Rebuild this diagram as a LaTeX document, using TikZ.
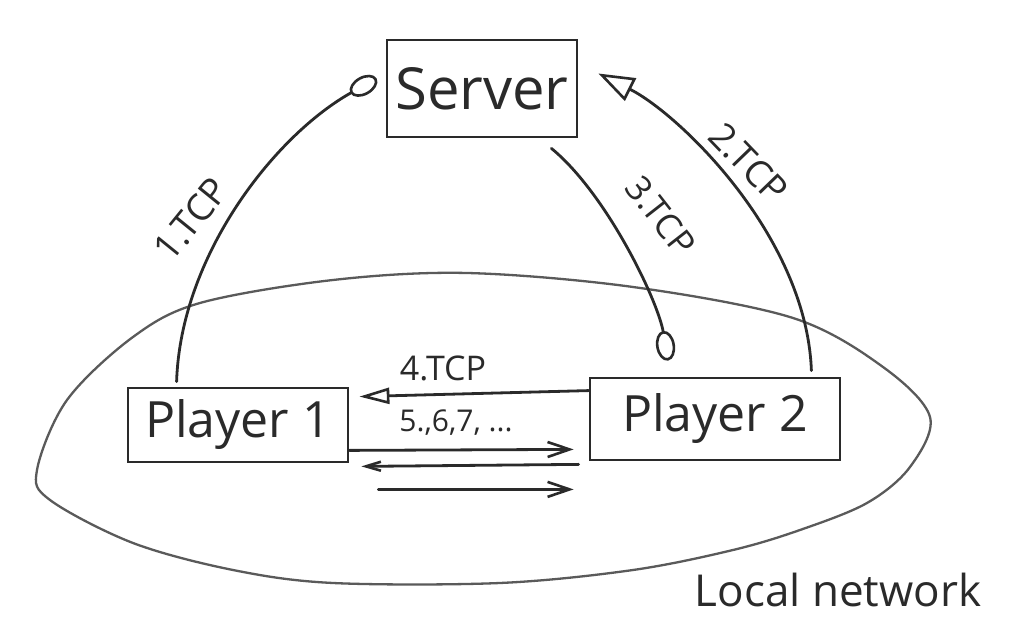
\documentclass[tikz,border=0pt]{standalone}
\usepackage{fontspec}
\setmainfont{Open Sans}
\usetikzlibrary{arrows.meta}
\definecolor{ink}{HTML}{2A2A2A}
\definecolor{inkgray}{HTML}{5A5A5A}
\begin{document}
\begin{tikzpicture}[x=1pt,y=1pt,
  box/.style={draw=ink, line width=2.8pt, rectangle, inner sep=0pt, text=ink},
  wire/.style={draw=ink, line width=2.8pt, line cap=round},
  lbl/.style={text=ink, inner sep=0pt},
  circtip/.style={-{Circle[open,length=30pt,width=19pt,line width=2.6pt]}},
  tritip/.style={-{Triangle[open,length=36pt,width=25pt,line width=2.6pt]}},
  smalltri/.style={-{Triangle[open,length=30pt,width=16pt,line width=2.6pt]}},
  barbtip/.style={-{Straight Barb[length=22pt,width=15pt,line width=2.6pt]}},
  smallbarb/.style={-{Straight Barb[length=15pt,width=9pt,line width=2.6pt]}}]
\useasboundingbox (0,0) rectangle (1026,637);
\fill[white] (0,0) rectangle (1026,637);

% local network outline
\draw[inkgray, line width=2.3pt] plot[smooth cycle, tension=0.55] coordinates {
  (37,167) (67,237) (133,300) (200,334) (333,357) (467,364) (633,350)
  (793,319) (883,270) (930,220) (910,170) (867,134) (800,107) (733,87)
  (633,67) (500,54) (333,54) (233,67) (133,94) (50,137)};

% nodes
\node[box, minimum width=190pt, minimum height=97pt,
      font=\fontsize{58}{62}\selectfont] (server) at (482,548.5) {Server};
\node[box, minimum width=220pt, minimum height=74pt,
      font=\fontsize{50}{54}\selectfont] (p1) at (238,212) {Player 1};
\node[box, minimum width=250pt, minimum height=82pt,
      font=\fontsize{50}{54}\selectfont] (p2) at (715,218) {Player 2};

% 1. TCP
\draw[wire, circtip] ([xshift=50pt,yshift=5pt]p1.north west)
  .. controls +(4,126) and +(-102,-57) .. ([xshift=-9pt,yshift=10pt]server.west);
% 2. TCP
\draw[wire, tritip] ([xshift=-30pt,yshift=6pt]p2.north east)
  .. controls +(-5,135) and +(80,-40) .. ([xshift=20pt,yshift=15pt]server.east);
% 3. TCP
\draw[wire, circtip] ([xshift=-27pt,yshift=-10pt]server.south east)
  .. controls +(55,-45) and +(-10,60) .. ([xshift=-47pt,yshift=16pt]p2.north);
% 4. TCP
\draw[wire, smalltri] ([yshift=-14pt]p2.north west) -- ([xshift=10pt,yshift=-10pt]p1.north east);
% 5., 6, 7, ...
\draw[wire, barbtip] ([yshift=13pt]p1.south east) -- ([xshift=-15pt,yshift=12pt]p2.south west);
\draw[wire, smallbarb] ([xshift=-10pt,yshift=-3pt]p2.south west) -- ([xshift=12pt,yshift=-3pt]p1.south east);
\draw[wire, barbtip] ([xshift=29pt,yshift=-26pt]p1.south east) -- ([xshift=-15pt,yshift=-28pt]p2.south west);

% labels
\node[lbl, rotate=51, font=\fontsize{37}{40}\selectfont] (l1) at (191,418) {1.TCP};
\node[lbl, rotate=-46, font=\fontsize{37}{40}\selectfont] (l2) at (749,474) {2.TCP};
\node[lbl, rotate=-52, font=\fontsize{35}{38}\selectfont] (l3) at (661,421) {3.TCP};
\node[lbl, font=\fontsize{34}{38}\selectfont] (l4) at (443,269) {4.TCP};
\node[lbl, font=\fontsize{30}{34}\selectfont] (l5) at (456,214) {5.,6,7, ...};
\node[lbl, font=\fontsize{44}{48}\selectfont] (lnet) at (838,47) {Local network};
\end{tikzpicture}
\end{document}
